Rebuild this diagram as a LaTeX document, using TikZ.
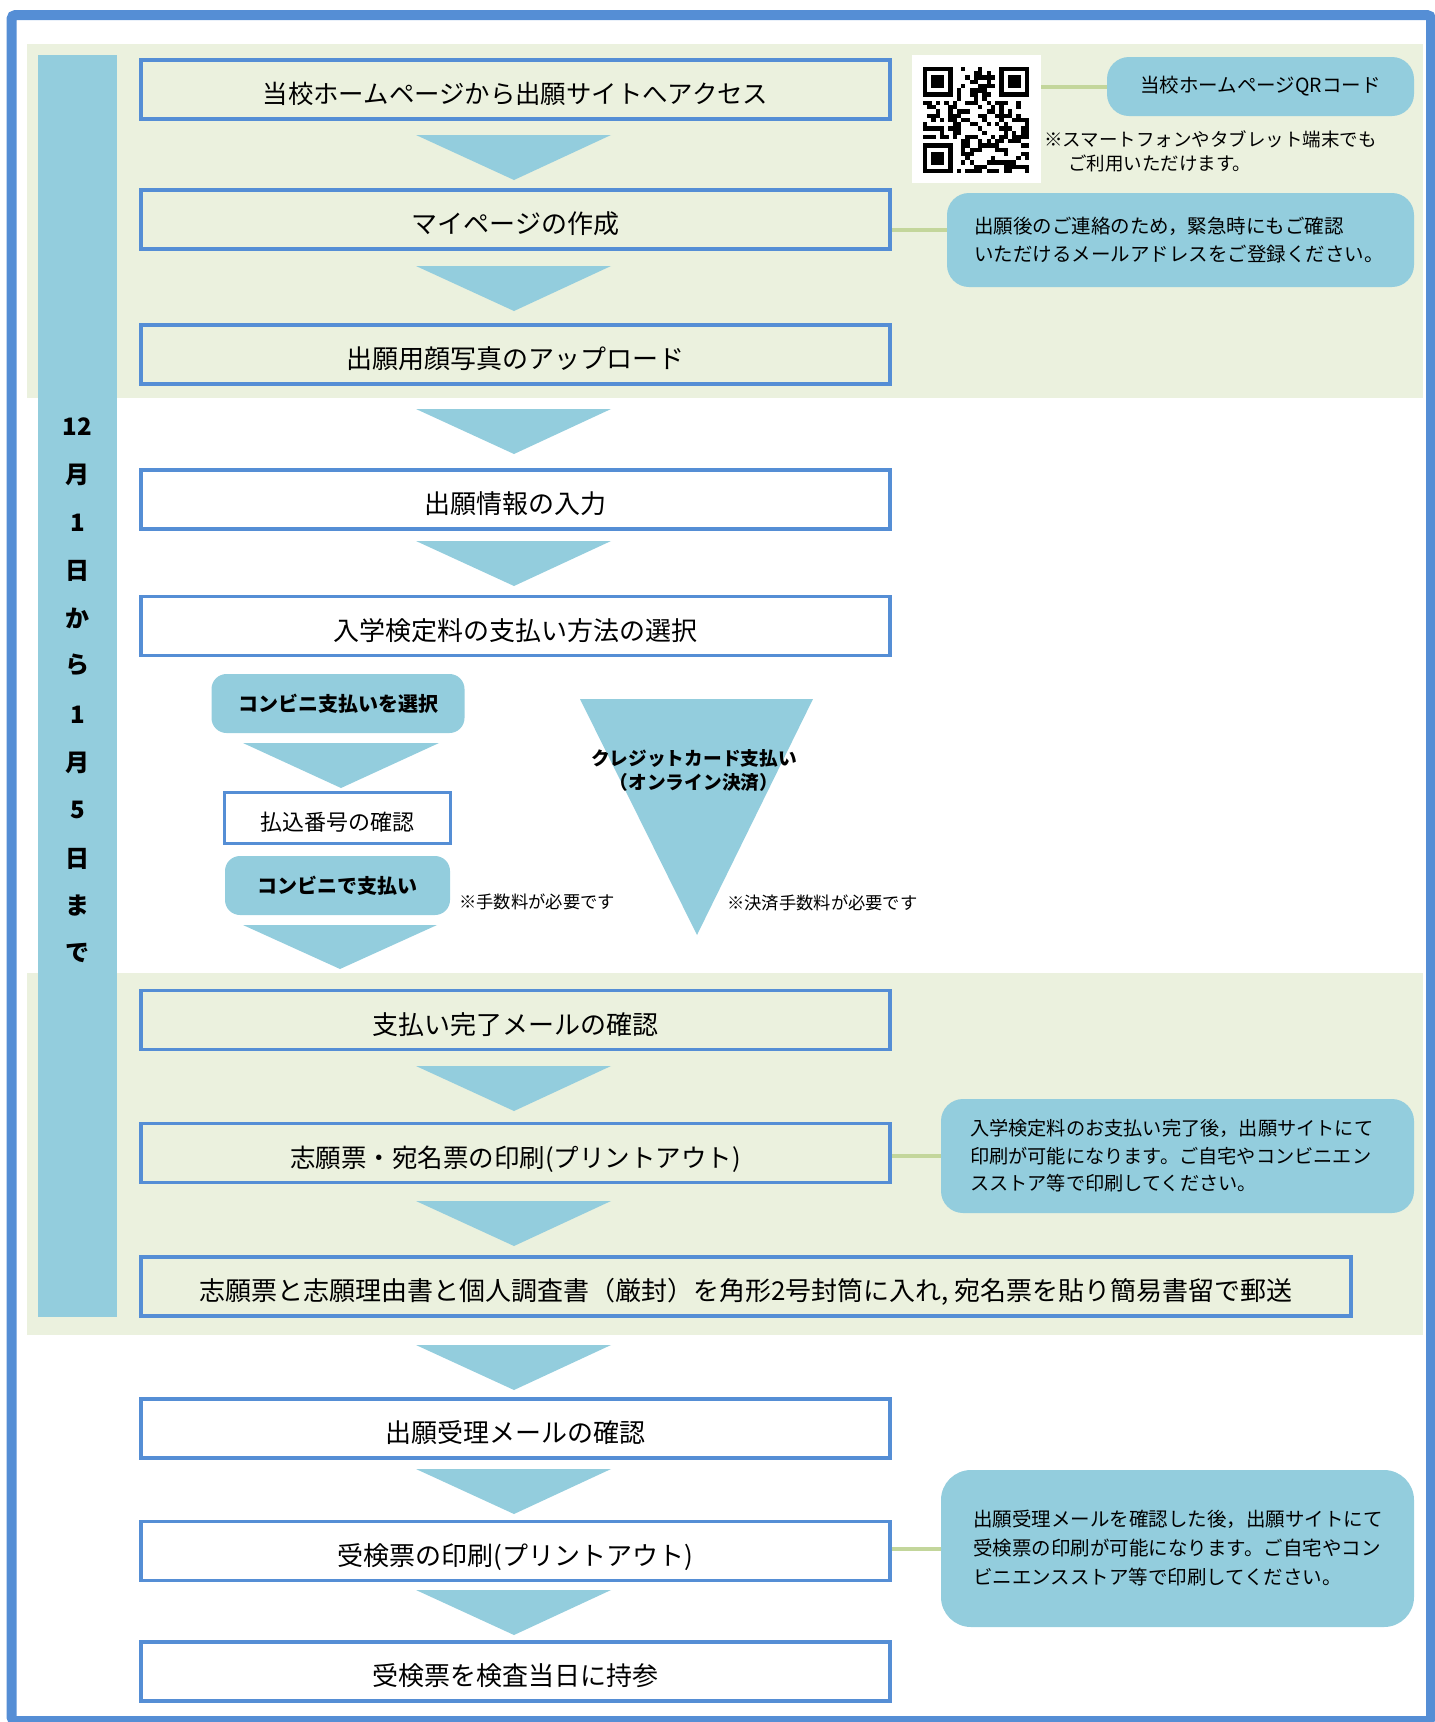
\documentclass[tikz,border=0pt]{standalone}
\usepackage{fontspec}
\setmainfont{Noto Sans CJK JP}
\definecolor{frameblue}{RGB}{85,142,213}
\definecolor{boxblue}{RGB}{85,142,213}
\definecolor{lblue}{RGB}{147,205,221}
\definecolor{bggreen}{RGB}{235,241,222}
\definecolor{lgreen}{RGB}{195,214,155}
\begin{document}
\begin{tikzpicture}[x=1pt,y=-1pt,
  mainbox/.style={draw=boxblue, line width=3.5pt, minimum width=749pt, minimum height=59pt, inner sep=0pt, text height=30pt, text depth=2pt, font=\fontsize{26}{30}\selectfont},
  bubble/.style={fill=lblue, rounded corners=22pt, inner sep=0pt},
  tri/.style={fill=lblue},
  link/.style={draw=lgreen, line width=4pt},
  bartext/.style={font=\bfseries\fontsize{24}{28}\selectfont, inner sep=0pt},
  note/.style={font=\fontsize{19.5}{27.5}\selectfont, align=left},
  smallnote/.style={font=\fontsize{17.3}{20}\selectfont, anchor=west, inner sep=0pt}
]
\useasboundingbox (0,0) rectangle (1435,1722);
% backgrounds
\fill[bggreen] (27,44) rectangle (1423,398);
\fill[bggreen] (27,973) rectangle (1423,1335);
\draw[frameblue, line width=10pt, rounded corners=4pt] (11.5,15) rectangle (1431,1721);
% left bar
\fill[lblue] (38,55) rectangle (117,1317);
\foreach \t/\y [count=\k] in {12/427, 月/475, 1/523, 日/571, か/618, ら/665, 1/715, 月/763, 5/810, 日/859, ま/906, で/953}
  \node[bartext] (bt\k) at (77.5,\y) {\t};
% arrow triangles
\foreach \yt in {135,266,409,541,1066,1201,1345,1469,1590}
  \fill[tri] (416,\yt) -- (611,\yt) -- (514,\yt+45) -- cycle;
% main boxes
\node[mainbox, font=\fontsize{25.4}{30}\selectfont] (b1) at (515.5,89.5) {当校ホームページから出願サイトへアクセス};
\node[mainbox] (b2) at (515.5,219.5) {マイページの作成};
\node[mainbox] (b3) at (515.5,354.5) {出願用顔写真のアップロード};
\node[mainbox, fill=white] (b4) at (515.5,499.5) {出願情報の入力};
\node[mainbox, fill=white] (b5) at (515.5,626) {入学検定料の支払い方法の選択};
\node[mainbox] (b6) at (515.5,1020) {支払い完了メールの確認};
\node[mainbox, font=\fontsize{25.5}{30}\selectfont] (b7) at (515.5,1153) {志願票・宛名票の印刷(プリントアウト)};
\node[mainbox, minimum width=1210pt] (b8) at (746,1286.5) {志願票と志願理由書と個人調査書（厳封）を角形2号封筒に入れ, 宛名票を貼り簡易書留で郵送};
\node[mainbox, fill=white] (b9) at (515.5,1428.5) {出願受理メールの確認};
\node[mainbox, fill=white] (b10) at (515.5,1551) {受検票の印刷(プリントアウト)};
\node[mainbox, fill=white] (b11) at (515.5,1671.5) {受検票を検査当日に持参};
% QR code
\node[fill=white, minimum width=129pt, minimum height=128pt, inner sep=0pt] (qr) at (976.5,119) {};
\pgfmathsetseed{4711}
\foreach \i in {0,...,24}{
  \foreach \j in {0,...,24}{
    \pgfmathtruncatemacro{\infp}{or(or(and(\i<8,\j<8),and(\i>16,\j<8)),and(\i<8,\j>16))}
    \pgfmathtruncatemacro{\bit}{rnd<0.5 ? 1 : 0}
    \ifnum\infp=0 \ifnum\bit=1 \fill[black] (923+\i*4.24,67+\j*4.24) rectangle ++(4.3,4.3); \fi\fi
  }
}
\foreach \fx/\fy in {923/67, 999.32/67, 923/143.32}{
  \fill[black] (\fx,\fy) rectangle ++(29.68,29.68);
  \fill[white] (\fx+4.24,\fy+4.24) rectangle ++(21.2,21.2);
  \fill[black] (\fx+8.48,\fy+8.48) rectangle ++(12.72,12.72);
}
% right bubbles
\node[bubble, minimum width=307pt, minimum height=59pt, font=\fontsize{19.5}{24}\selectfont] (qrb) at (1260.5,86.5) {当校ホームページQRコード};
\draw[link] (qrb.west) -- (qrb.west -| qr.east);
\node[font=\fontsize{18.5}{24}\selectfont, align=left, anchor=north west, inner sep=0pt] (qrnote) at (1044,130.5) {※スマートフォンやタブレット端末でも\\\hspace*{24pt}ご利用いただけます。};
\node[bubble, note, minimum width=467pt, minimum height=94pt, text width=413pt] (n2) at (1180.5,240) {出願後のご連絡のため，緊急時にもご確認\\いただけるメールアドレスをご登録ください。};
\draw[link] ([yshift=10pt]n2.west) -- ([yshift=10pt]n2.west -| b2.east);
\node[bubble, note, font=\fontsize{19.2}{27.5}\selectfont, minimum width=473pt, minimum height=114pt, text width=415pt] (n7) at (1177.5,1156) {入学検定料のお支払い完了後，出願サイトにて\\印刷が可能になります。ご自宅やコンビニエン\\スストア等で印刷してください。};
\draw[link] (n7.west) -- (n7.west -| b7.east);
\node[bubble, note, font=\fontsize{19.5}{29}\selectfont, rounded corners=30pt, minimum width=473pt, minimum height=157pt, text width=409pt] (n10) at (1177.5,1548.5) {出願受理メールを確認した後，出願サイトにて\\受検票の印刷が可能になります。ご自宅やコン\\ビニエンスストア等で印刷してください。};
\draw[link] (n10.west) -- (n10.west -| b10.east);
% convenience store branch
\node[bubble, rounded corners=15pt, minimum width=253pt, minimum height=59pt, font=\bfseries\fontsize{20}{24}\selectfont] (cs) at (338,703.5) {コンビニ支払いを選択};
\fill[tri] (243,743) -- (439,743) -- (341,788) -- cycle;
\node[draw=boxblue, line width=3pt, fill=white, minimum width=226pt, minimum height=51pt, inner sep=0pt, text height=25pt, text depth=1pt, font=\fontsize{22}{26}\selectfont] (cn) at (337.5,818) {払込番号の確認};
\node[bubble, rounded corners=15pt, minimum width=225pt, minimum height=59pt, font=\bfseries\fontsize{20}{24}\selectfont] (cp) at (337.5,885.5) {コンビニで支払い};
\node[smallnote] (fee1) at (459,902) {※手数料が必要です};
\fill[tri] (243,925) -- (437,925) -- (340,969) -- cycle;
% credit card
\fill[tri] (580,699) -- (813,699) -- (697,935) -- cycle;
\node[font=\bfseries\fontsize{18.7}{24}\selectfont, align=center, inner sep=0pt] (cc) at (694,770) {クレジットカード支払い\\（オンライン決済）};
\node[smallnote] (fee2) at (727,903) {※決済手数料が必要です};
\end{tikzpicture}
\end{document}
